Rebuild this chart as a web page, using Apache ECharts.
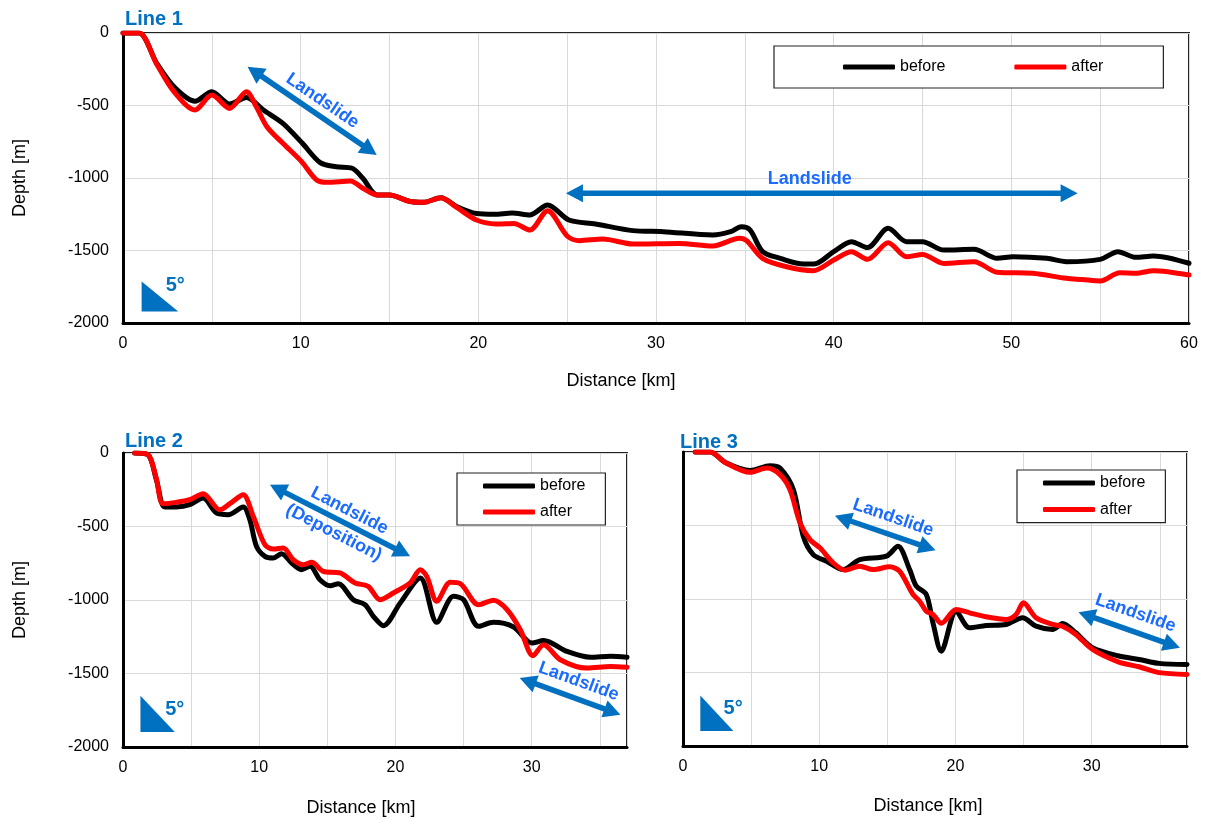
<!DOCTYPE html>
<html>
<head>
<meta charset="utf-8">
<script src="https://cdn.jsdelivr.net/npm/echarts@6/dist/echarts.min.js"></script>
<style>
  html, body { margin: 0; padding: 0; background: #ffffff; }
  #chart { width: 1206px; height: 820px; }
</style>
</head>
<body>
<div id="chart"></div>
<script>
// Seafloor depth profiles [distance km, depth m] before and after the event
const line1Before = [[0,0],[0.9,0],[1.9,-209],[2.9,-375],[4.05,-470],[5.0,-405],[6.0,-490],[6.95,-445],[7.9,-531],[9.0,-623],[10.1,-761],[11.1,-894],[12.0,-922],[12.9,-933],[13.5,-1002],[14.3,-1117],[15.0,-1117],[16.1,-1160],[16.9,-1168],[17.9,-1136],[18.8,-1198],[19.9,-1245],[20.9,-1250],[21.9,-1242],[22.9,-1255],[23.9,-1186],[25.1,-1290],[26.6,-1317],[28.7,-1363],[30.4,-1370],[33.2,-1393],[34.2,-1370],[34.8,-1336],[35.3,-1359],[36.0,-1508],[37.0,-1554],[38.3,-1593],[38.9,-1593],[40.0,-1508],[41.0,-1439],[41.9,-1480],[43.07,-1347],[44.1,-1439],[45.0,-1439],[46.2,-1497],[47.9,-1492],[49.2,-1554],[50.1,-1543],[52.0,-1554],[53.1,-1577],[55.0,-1561],[56.0,-1508],[57.0,-1547],[58.0,-1538],[60,-1588]];
const line1After = [[0,0],[0.9,0],[1.9,-215],[2.9,-410],[4.05,-531],[5.0,-428],[6.0,-520],[6.95,-405],[7.5,-508],[8.1,-646],[9.0,-761],[10.05,-887],[10.9,-1014],[11.5,-1030],[12.8,-1021],[13.5,-1071],[14.3,-1117],[15.0,-1117],[16.1,-1160],[16.9,-1168],[17.9,-1136],[18.8,-1205],[19.9,-1290],[21.0,-1317],[22.0,-1313],[22.9,-1359],[23.9,-1225],[25.0,-1400],[25.7,-1432],[27.0,-1421],[28.7,-1455],[31.3,-1451],[33.2,-1469],[34.7,-1416],[35.1,-1432],[36.0,-1554],[37.35,-1612],[38.85,-1639],[40.0,-1566],[41.0,-1508],[41.9,-1561],[43.07,-1446],[44.1,-1543],[45.0,-1527],[46.2,-1589],[47.9,-1577],[49.2,-1650],[51.2,-1657],[53.1,-1692],[54.0,-1700],[55.0,-1710],[56.1,-1653],[57.0,-1657],[58.0,-1639],[60,-1669]];

const line2Before = [[0.86,0],[1.84,-12],[2.45,-182],[3.07,-367],[3.92,-367],[4.9,-352],[5.88,-306],[6.86,-408],[7.72,-420],[8.82,-367],[9.31,-454],[9.8,-635],[10.42,-703],[11.03,-714],[11.64,-685],[12.38,-748],[13.1,-794],[13.73,-771],[14.46,-862],[15.2,-903],[15.81,-889],[16.9,-998],[17.77,-1032],[18.38,-1111],[19.12,-1175],[20.35,-1020],[21.82,-850],[23.04,-1152],[24.26,-975],[25.0,-998],[26.1,-1179],[27.2,-1152],[28.68,-1184],[30.03,-1293],[30.88,-1275],[32.6,-1350],[34.32,-1390],[35.79,-1383],[37.0,-1390]];
const line2After = [[0.86,0],[1.84,-12],[2.45,-175],[2.94,-345],[3.92,-336],[4.9,-318],[5.88,-277],[7.11,-386],[7.85,-345],[8.82,-284],[9.56,-431],[10.42,-624],[11.03,-653],[11.76,-646],[12.5,-726],[13.24,-760],[13.85,-744],[14.7,-805],[15.93,-816],[17.04,-884],[18.0,-907],[18.87,-998],[19.85,-952],[21.08,-884],[21.82,-794],[22.3,-839],[23.04,-1009],[24.02,-880],[24.76,-889],[26.1,-1032],[27.2,-1002],[28.2,-1066],[29.17,-1202],[30.1,-1379],[30.88,-1304],[32.1,-1406],[34.07,-1463],[35.79,-1452],[37.0,-1458]];

const line3Before = [[0.9,0],[2.0,0],[3.1,-71],[4.93,-125],[6.39,-93],[7.12,-109],[8.1,-256],[8.83,-573],[9.56,-698],[10.54,-743],[11.76,-800],[12.98,-732],[14.93,-709],[15.78,-641],[16.64,-800],[17.13,-913],[17.86,-969],[18.35,-1162],[18.96,-1355],[20.06,-1083],[21.03,-1196],[22.25,-1180],[23.72,-1173],[24.93,-1128],[25.92,-1185],[27.13,-1207],[27.86,-1166],[28.84,-1230],[30.06,-1332],[32.0,-1388],[33.48,-1411],[34.94,-1438],[37.0,-1445]];
const line3After = [[0.9,0],[2.0,0],[3.1,-71],[4.93,-138],[6.15,-109],[7.12,-154],[7.85,-256],[8.59,-482],[9.32,-596],[10.05,-652],[11.03,-754],[11.88,-804],[12.98,-777],[13.95,-800],[15.18,-781],[15.9,-811],[16.88,-969],[17.37,-1015],[17.86,-1083],[18.35,-1105],[18.96,-1165],[20.06,-1071],[21.03,-1094],[22.25,-1121],[23.72,-1139],[24.45,-1105],[24.99,-1026],[25.92,-1128],[27.13,-1173],[27.86,-1185],[28.84,-1241],[30.06,-1343],[32.0,-1429],[33.48,-1461],[34.94,-1501],[37.0,-1513]];

// Axis ranges and tick steps
const distanceMax = [60, 37, 37];
const depthMin = -2000;
const depthMax = 0;
const depthStep = 500;
const distanceStep = 5;
const distanceLabelStep = 10;

// Double-headed annotation arrows: [x1, y1, x2, y2] in km / m
const line1Arrows = [[7.01,-232,14.28,-841],[24.93,-1106,53.73,-1106]];
const line2Arrows = [[10.79,-216,21.08,-703],[29.12,-1531,36.52,-1780]];
const line3Arrows = [[11.15,-433,18.54,-668],[29.03,-1090,36.48,-1332]];
const line1ArrowText = [['Landslide'],['Landslide']];
const line2ArrowText = [['Landslide','(Deposition)'],['Landslide']];
const line3ArrowText = [['Landslide'],['Landslide']];

// 5-degree slope reference triangles: [xLeft, yTop, xRight, yBottom, xLabel, yLabel]
const line1Slope = [[1.05,-1714,3.11,-1921,2.94,-1743]];
const line2Slope = [[1.28,-1651,3.8,-1898,3.8,-1743]];
const line3Slope = [[1.27,-1656,3.7,-1898,3.68,-1747]];
const slopeText = '5°';

const titles = ['Line 1', 'Line 2', 'Line 3'];
const seriesNames = ['before', 'after'];

// ---- styling ----
const FONT = '"Liberation Sans", Arial, Helvetica, sans-serif';
const ARROW_COLOR = '#0070C0';
const ARROW_TEXT_COLOR = '#1A6BFF';
const TITLE_COLOR = '#0070C0';
// label placement along / across each arrow, in pixels
const labelOffsets = [
  [[[3, 14]], [[-12, 14]]],
  [[[4, 13], [0, -13.6]], [[3, 17]]],
  [[[2.5, 17]], [[0.4, 18]]]
];

function arrowRenderer(rows, texts, offsets) {
  return function (params, api) {
    const r = rows[params.dataIndex];
    const a = api.coord([r[0], r[1]]);
    const b = api.coord([r[2], r[3]]);
    const dx = b[0] - a[0], dy = b[1] - a[1];
    const len = Math.hypot(dx, dy);
    const ux = dx / len, uy = dy / len;
    const nx = uy, ny = -ux;
    const H = 17, W = 18;
    const head = (tip, dir) => ({
      type: 'polygon',
      shape: { points: [
        [tip[0], tip[1]],
        [tip[0] - dir * ux * H + nx * W / 2, tip[1] - dir * uy * H + ny * W / 2],
        [tip[0] - dir * ux * H - nx * W / 2, tip[1] - dir * uy * H - ny * W / 2]
      ] },
      style: { fill: ARROW_COLOR }
    });
    const children = [
      { type: 'line',
        shape: { x1: a[0] + ux * (H - 2), y1: a[1] + uy * (H - 2), x2: b[0] - ux * (H - 2), y2: b[1] - uy * (H - 2) },
        style: { stroke: ARROW_COLOR, lineWidth: 5.5 } },
      head(a, -1), head(b, 1)
    ];
    const mx = (a[0] + b[0]) / 2, my = (a[1] + b[1]) / 2;
    const rot = -Math.atan2(dy, dx);
    texts[params.dataIndex].forEach(function (t, i) {
      const off = offsets[params.dataIndex][i];
      children.push({
        type: 'text',
        x: mx + ux * off[0] + nx * off[1],
        y: my + uy * off[0] + ny * off[1],
        rotation: rot,
        style: { text: t, fill: ARROW_TEXT_COLOR, font: 'bold 18px ' + FONT, align: 'center', verticalAlign: 'middle' }
      });
    });
    return { type: 'group', children: children };
  };
}

function slopeRenderer(rows) {
  return function (params, api) {
    const r = rows[params.dataIndex];
    const tl = api.coord([r[0], r[1]]);
    const br = api.coord([r[2], r[3]]);
    const lp = api.coord([r[4], r[5]]);
    return {
      type: 'group',
      children: [
        { type: 'polygon', shape: { points: [[tl[0], tl[1]], [tl[0], br[1]], [br[0], br[1]]] }, style: { fill: ARROW_COLOR } },
        { type: 'text', x: lp[0], y: lp[1],
          style: { text: slopeText, fill: ARROW_COLOR, font: 'bold 20px ' + FONT, align: 'center', verticalAlign: 'middle' } }
      ]
    };
  };
}

const grids = [
  { left: 123, top: 33, width: 1066, height: 290 },
  { left: 123, top: 453, width: 504, height: 294 },
  { left: 683, top: 452, width: 504, height: 294 }
];
grids.forEach(g => {
  g.show = true; g.borderColor = '#222'; g.borderWidth = 2; g.backgroundColor = 'transparent';
  g.containLabel = false; g.outerBoundsMode = 'none';
});

const xNameGap = [49, 52, 51];
const xNamePad = [[0, 70, 0, 0], [0, 28, 0, 0], [0, 14, 0, 0]];
const yNameGap = [94, 94, 94];

const xAxes = distanceMax.map((mx, i) => ({
  type: 'value', gridIndex: i, min: 0, max: mx, interval: distanceStep,
  name: 'Distance [km]', nameLocation: 'middle', nameGap: xNameGap[i], nameMoveOverlap: false,
  nameTextStyle: { fontFamily: FONT, fontSize: 18, color: '#000', padding: xNamePad[i] },
  axisLine: { show: true, onZero: false, lineStyle: { color: '#000', width: 3 } },
  axisTick: { show: false },
  axisLabel: { fontFamily: FONT, fontSize: 16, color: '#000', margin: 13,
    formatter: v => (v % distanceLabelStep === 0 ? String(v) : '') },
  splitLine: { show: true, lineStyle: { color: '#d9d9d9', width: 1 } }
}));

const yAxes = [0, 1, 2].map(i => ({
  type: 'value', gridIndex: i, min: depthMin, max: depthMax, interval: depthStep,
  name: i < 2 ? 'Depth [m]' : '', nameLocation: 'middle', nameGap: yNameGap[i], nameRotate: 90, nameMoveOverlap: false,
  nameTextStyle: { fontFamily: FONT, fontSize: 18, color: '#000' },
  axisLine: { show: true, onZero: false, lineStyle: { color: '#000', width: 3 } },
  axisTick: { show: false },
  axisLabel: { show: i < 2, fontFamily: FONT, fontSize: 16, color: '#000', margin: 14,
    formatter: v => String(v) },
  splitLine: { show: true, lineStyle: { color: '#d9d9d9', width: 1 } }
}));

const profiles = [[line1Before, line1After], [line2Before, line2After], [line3Before, line3After]];
const lineColors = ['#000000', '#ff0000'];
const series = [];
profiles.forEach((pair, gi) => {
  pair.forEach((data, si) => {
    series.push({
      type: 'line', name: seriesNames[si], xAxisIndex: gi, yAxisIndex: gi,
      data: data, showSymbol: false, symbol: 'none', smooth: 0.3,
      lineStyle: { color: lineColors[si], width: 5, cap: 'round', join: 'round' },
      itemStyle: { color: lineColors[si] },
      z: 3 + si
    });
  });
});

const arrowSets = [[line1Arrows, line1ArrowText], [line2Arrows, line2ArrowText], [line3Arrows, line3ArrowText]];
arrowSets.forEach((set, gi) => {
  series.push({
    type: 'custom', xAxisIndex: gi, yAxisIndex: gi, silent: true, clip: false, z: 6,
    data: set[0].map(r => [r[0], r[1]]),
    renderItem: arrowRenderer(set[0], set[1], labelOffsets[gi])
  });
});
[line1Slope, line2Slope, line3Slope].forEach((d, gi) => {
  series.push({
    type: 'custom', xAxisIndex: gi, yAxisIndex: gi, silent: true, clip: false, z: 6,
    data: d.map(r => [r[0], r[1]]),
    renderItem: slopeRenderer(d)
  });
});

const legendBase = {
  data: seriesNames, icon: 'roundRect', itemWidth: 52, itemHeight: 5,
  textStyle: { fontFamily: FONT, fontSize: 16, color: '#000' },
  backgroundColor: '#fff', borderColor: '#222', borderWidth: 1.2, borderRadius: 0,
  selectedMode: false
};
const legends = [
  Object.assign({}, legendBase, { orient: 'horizontal', left: 774, top: 46, padding: [13, 60, 13, 69], itemGap: 69 }),
  Object.assign({}, legendBase, { orient: 'vertical', left: 457, top: 473, padding: [5, 20, 5, 26], itemGap: 10 }),
  Object.assign({}, legendBase, { orient: 'vertical', left: 1017, top: 470, padding: [5, 20, 5, 26], itemGap: 10.6 })
];

const titleLeft = [125, 125, 680];
const titleTop = [9, 431, 432];
const titleOpts = titles.map((t, i) => ({
  text: t, left: titleLeft[i], top: titleTop[i], padding: 0,
  textStyle: { fontFamily: FONT, fontSize: 20, fontWeight: 'bold', color: TITLE_COLOR }
}));

const chart = echarts.init(document.getElementById('chart'), null, { renderer: 'canvas' });
chart.setOption({
  animation: false,
  backgroundColor: '#ffffff',
  title: titleOpts,
  legend: legends,
  grid: grids,
  xAxis: xAxes,
  yAxis: yAxes,
  series: series
});
</script>
</body>
</html>
